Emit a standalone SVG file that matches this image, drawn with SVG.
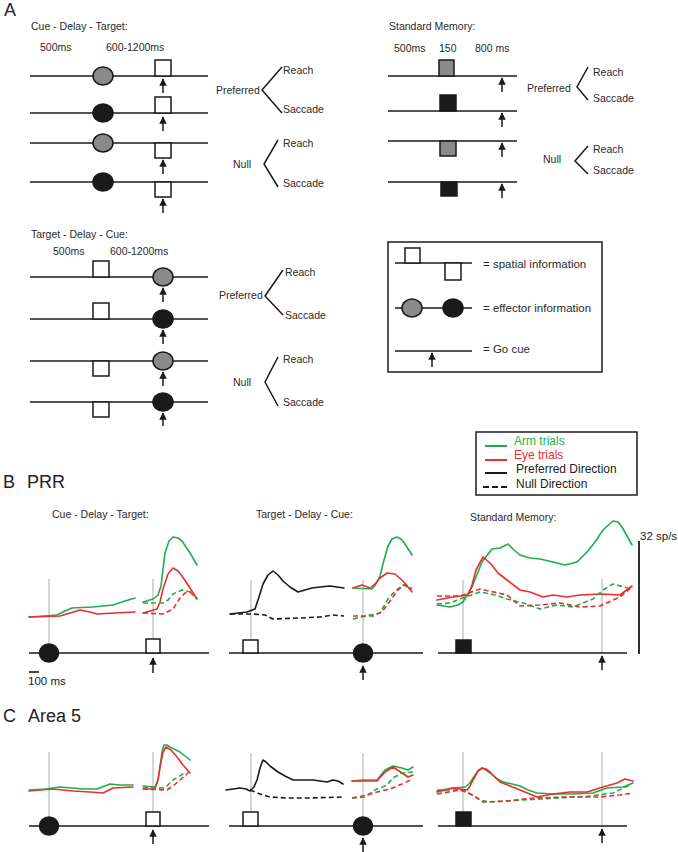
<svg xmlns="http://www.w3.org/2000/svg" width="678" height="852" viewBox="0 0 678 852">
<defs>
<marker id="ah" viewBox="0 0 10 10" refX="9" refY="5" markerWidth="5" markerHeight="5" orient="auto"><path d="M0,0 L10,5 L0,10 z" fill="#1a1a1a"/></marker>
<style>
.t{font-family:"Liberation Sans",Arial,sans-serif;font-size:10.5px;fill:#2a2a2a}
.tl{font-family:"Liberation Sans",Arial,sans-serif;font-size:11.5px;fill:#2a2a2a}
.h{font-family:"Liberation Sans",Arial,sans-serif;font-size:18px;fill:#222}
.lg{font-family:"Liberation Sans",Arial,sans-serif;font-size:12px}
.sm{font-family:"Liberation Sans",Arial,sans-serif;font-size:11.5px;fill:#222}
.ln{stroke:#1a1a1a;stroke-width:1.6;fill:none}
.br{stroke:#1a1a1a;stroke-width:1.5;fill:none}
.arr{stroke:#1a1a1a;stroke-width:1.5;marker-end:url(#ah)}
.sq{fill:#fff;stroke:#1a1a1a;stroke-width:1.5}
.sqg{fill:#8a8a8a;stroke:#1a1a1a;stroke-width:1.5}
.sqb{fill:#1a1a1a;stroke:#1a1a1a;stroke-width:1.5}
.eg{fill:#8a8a8a;stroke:#1a1a1a;stroke-width:1.5}
.eb{fill:#1a1a1a;stroke:#1a1a1a;stroke-width:1.5}
.gv{stroke:#c8c8c8;stroke-width:1.5}
.g{stroke:#1fae4b;stroke-width:1.6;fill:none;stroke-linejoin:round;stroke-linecap:round}
.r{stroke:#ec2d2d;stroke-width:1.6;fill:none;stroke-linejoin:round;stroke-linecap:round}
.k{stroke:#1a1a1a;stroke-width:1.6;fill:none;stroke-linejoin:round;stroke-linecap:round}
.d{stroke-dasharray:5,3;stroke-linecap:butt}
.box{fill:none;stroke:#2a2a2a;stroke-width:1.6}
</style>
</defs>
<rect width="678" height="852" fill="#fff"/>

<!-- Panel A -->
<text class="h" x="4" y="16">A</text>

<g id="cue-delay-target">
<text class="t" x="31" y="30">Cue - Delay - Target:</text>
<text class="t" x="40" y="51">500ms</text>
<text class="t" x="106" y="51">600-1200ms</text>
<line class="ln" x1="30" y1="76" x2="208" y2="76"/>
<line class="ln" x1="30" y1="113" x2="208" y2="113"/>
<line class="ln" x1="30" y1="143" x2="208" y2="143"/>
<line class="ln" x1="30" y1="182" x2="208" y2="182"/>
<ellipse class="eg" cx="103" cy="76" rx="10" ry="9"/>
<ellipse class="eb" cx="103" cy="113" rx="10" ry="9"/>
<ellipse class="eg" cx="103" cy="143" rx="10" ry="9"/>
<ellipse class="eb" cx="103" cy="182" rx="10" ry="9"/>
<rect class="sq" x="155" y="60" width="16" height="16"/>
<rect class="sq" x="155" y="97" width="16" height="16"/>
<rect class="sq" x="155" y="143" width="16" height="15"/>
<rect class="sq" x="155" y="182" width="16" height="15"/>
<line class="arr" x1="163" y1="93" x2="163" y2="79"/>
<line class="arr" x1="163" y1="131" x2="163" y2="117"/>
<line class="arr" x1="163" y1="174" x2="163" y2="160"/>
<line class="arr" x1="163" y1="213" x2="163" y2="199"/>
<text class="t" x="216" y="94">Preferred</text>
<polyline class="br" points="282,67 262,90 282,113"/>
<text class="t" x="283" y="74">Reach</text>
<text class="t" x="283" y="113">Saccade</text>
<text class="t" x="233" y="168">Null</text>
<polyline class="br" points="278,140 264,164 278,187"/>
<text class="t" x="283" y="147">Reach</text>
<text class="t" x="283" y="187">Saccade</text>
</g>

<g id="standard-memory">
<text class="t" x="389" y="30">Standard Memory:</text>
<text class="t" x="394" y="52">500ms</text>
<text class="t" x="439" y="52">150</text>
<text class="t" x="475" y="52">800 ms</text>
<line class="ln" x1="388" y1="76" x2="517" y2="76"/>
<line class="ln" x1="388" y1="111" x2="517" y2="111"/>
<line class="ln" x1="388" y1="141" x2="517" y2="141"/>
<line class="ln" x1="388" y1="182" x2="517" y2="182"/>
<rect class="sqg" x="439" y="60" width="15" height="16"/>
<rect class="sqb" x="440" y="95" width="16" height="16"/>
<rect class="sqg" x="440" y="141" width="16" height="15"/>
<rect class="sqb" x="441" y="182" width="16" height="14"/>
<line class="arr" x1="502" y1="92" x2="502" y2="78"/>
<line class="arr" x1="502" y1="127" x2="502" y2="113"/>
<line class="arr" x1="502" y1="157" x2="502" y2="143"/>
<line class="arr" x1="502" y1="198" x2="502" y2="184"/>
<text class="t" x="527" y="92">Preferred</text>
<polyline class="br" points="588,67 577,87 588,100"/>
<text class="t" x="593" y="76">Reach</text>
<text class="t" x="593" y="102">Saccade</text>
<text class="t" x="543" y="163">Null</text>
<polyline class="br" points="588,146 575,161 588,174"/>
<text class="t" x="593" y="153">Reach</text>
<text class="t" x="593" y="174">Saccade</text>
</g>

<g id="target-delay-cue">
<text class="t" x="31" y="238">Target - Delay - Cue:</text>
<text class="t" x="53" y="255">500ms</text>
<text class="t" x="110" y="255">600-1200ms</text>
<line class="ln" x1="30" y1="277" x2="208" y2="277"/>
<line class="ln" x1="30" y1="319" x2="208" y2="319"/>
<line class="ln" x1="30" y1="361" x2="208" y2="361"/>
<line class="ln" x1="30" y1="402" x2="208" y2="402"/>
<rect class="sq" x="93" y="261" width="16" height="16"/>
<rect class="sq" x="93" y="303" width="16" height="16"/>
<rect class="sq" x="93" y="361" width="16" height="15"/>
<rect class="sq" x="93" y="402" width="16" height="15"/>
<ellipse class="eg" cx="163" cy="277" rx="10" ry="9"/>
<ellipse class="eb" cx="163" cy="319" rx="10" ry="9"/>
<ellipse class="eg" cx="163" cy="361" rx="10" ry="9"/>
<ellipse class="eb" cx="163" cy="402" rx="10" ry="9"/>
<line class="arr" x1="163" y1="302" x2="163" y2="288"/>
<line class="arr" x1="163" y1="344" x2="163" y2="330"/>
<line class="arr" x1="163" y1="386" x2="163" y2="372"/>
<line class="arr" x1="163" y1="426" x2="163" y2="413"/>
<text class="t" x="219" y="299">Preferred</text>
<polyline class="br" points="283,270 265,296 283,315"/>
<text class="t" x="285" y="276">Reach</text>
<text class="t" x="285" y="319">Saccade</text>
<text class="t" x="233" y="386">Null</text>
<polyline class="br" points="278,357 265,382 278,406"/>
<text class="t" x="283" y="363">Reach</text>
<text class="t" x="283" y="406">Saccade</text>
</g>

<g id="legend-a">
<rect class="box" x="388" y="242" width="214" height="130"/>
<line class="ln" x1="395" y1="263" x2="472" y2="263"/>
<rect class="sq" x="405" y="248" width="15" height="15"/>
<rect class="sq" x="445" y="263" width="16" height="17"/>
<text class="tl" x="483" y="268">= spatial information</text>
<line class="ln" x1="395" y1="308" x2="472" y2="308"/>
<ellipse class="eg" cx="412" cy="308" rx="10" ry="9"/>
<ellipse class="eb" cx="453" cy="308" rx="10" ry="9"/>
<text class="tl" x="483" y="312">= effector information</text>
<line class="ln" x1="395" y1="351" x2="472" y2="351"/>
<line class="arr" x1="432" y1="367" x2="432" y2="353"/>
<text class="tl" x="483" y="353">= Go cue</text>
</g>

<!-- Legend B -->
<g id="legend-b">
<rect class="box" x="476" y="432" width="161" height="63"/>
<line x1="485" y1="446" x2="507" y2="446" stroke="#1fae4b" stroke-width="2"/>
<text class="lg" x="514" y="445" fill="#1fae4b">Arm trials</text>
<line x1="485" y1="460" x2="507" y2="460" stroke="#ec2d2d" stroke-width="2"/>
<text class="lg" x="514" y="459" fill="#ec2d2d">Eye trials</text>
<line x1="485" y1="473" x2="507" y2="473" stroke="#1a1a1a" stroke-width="2"/>
<text class="lg" x="516" y="473" fill="#222">Preferred Direction</text>
<line x1="483" y1="487" x2="507" y2="487" stroke="#1a1a1a" stroke-width="2" stroke-dasharray="6,3"/>
<text class="lg" x="516" y="488" fill="#222">Null Direction</text>
</g>

<!-- Panel B -->
<text class="h" x="3" y="488">B</text>
<text class="h" x="27" y="488">PRR</text>

<g id="b-cue-delay-target">
<text class="t" x="52" y="518">Cue - Delay - Target:</text>
<line class="gv" x1="49" y1="579" x2="49" y2="653"/>
<line class="gv" x1="153" y1="579" x2="153" y2="653"/>
<line class="ln" x1="29" y1="653" x2="209" y2="653"/>
<ellipse class="eb" cx="49" cy="653" rx="9.5" ry="9"/>
<rect class="sq" x="146" y="639" width="14" height="14"/>
<line class="arr" x1="153" y1="673" x2="153" y2="658"/>
<line x1="29" y1="672" x2="39" y2="672" stroke="#1a1a1a" stroke-width="1.6"/>
<text class="sm" x="28" y="685">100 ms</text>
<path class="g" d="M29,617 L45,616 L57,615 L65,611 L72,608 L93,607 L113,605 L125,601 L135,598"/>
<path class="r" d="M29,617 L60,616 L70,613 L80,610 L90,612 L97,614 L115,613 L135,612"/>
<path class="g" d="M143,602 L153,599 L158,595 L161,586 L165,553 L169,541 L173,537 L178,538 L182,541 L190,553 L197,565"/>
<path class="r" d="M143,613 L157,609 L160,602 L163,589 L168,574 L173,568 L178,571 L182,576 L190,588 L197,599"/>
<path class="g d" d="M143,603 L163,603 L168,600 L173,594 L182,590 L190,592 L197,598"/>
<path class="r d" d="M143,613 L163,614 L173,609 L180,598 L185,593 L190,592 L197,599"/>
</g>

<g id="b-target-delay-cue">
<text class="t" x="256" y="518">Target - Delay - Cue:</text>
<line class="gv" x1="251" y1="580" x2="251" y2="653"/>
<line class="gv" x1="363" y1="580" x2="363" y2="653"/>
<line class="ln" x1="229" y1="653" x2="423" y2="653"/>
<rect class="sq" x="243" y="640" width="15" height="13"/>
<ellipse class="eb" cx="363" cy="653" rx="9.5" ry="9"/>
<line class="arr" x1="363" y1="680" x2="363" y2="666"/>
<path class="k" d="M230,614 L247,612 L255,609 L259,597 L263,584 L268,575 L273,571 L278,575 L283,581 L290,587 L298,592 L305,590 L312,588 L320,587 L330,586 L337,587 L344,588"/>
<path class="k d" d="M230,614 L253,614 L265,615 L273,619 L300,618 L320,617 L333,615 L344,616"/>
<path class="g" d="M353,588 L372,589 L376,584 L380,576 L384,560 L388,546 L392,539 L397,537 L401,539 L405,544 L412,555"/>
<path class="r" d="M353,588 L362,585 L370,588 L375,584 L380,578 L387,573 L395,574 L403,581 L412,592"/>
<path class="g d" d="M353,619 L370,615 L380,613 L388,599 L395,591 L403,585 L410,588"/>
<path class="r d" d="M353,616 L373,616 L382,612 L390,601 L397,591 L405,584 L412,589"/>
</g>

<g id="b-standard-memory">
<text class="t" x="470" y="521">Standard Memory:</text>
<line class="gv" x1="463" y1="580" x2="463" y2="653"/>
<line class="gv" x1="602" y1="579" x2="602" y2="653"/>
<line class="ln" x1="438" y1="653" x2="627" y2="653"/>
<rect class="sqb" x="456" y="640" width="15" height="13"/>
<line class="arr" x1="602" y1="670" x2="602" y2="656"/>
<line x1="639" y1="541" x2="639" y2="654" stroke="#1a1a1a" stroke-width="1.8"/>
<text class="sm" x="640" y="540">32 sp/s</text>
<path class="g" d="M437,605 L450,607 L458,605 L463,602 L472,587 L482,562 L492,549 L500,548 L508,544 L514,550 L520,555 L530,558 L540,559 L553,562 L565,565 L577,562 L587,552 L595,542 L603,530 L613,521 L618,522 L622,527 L632,545"/>
<path class="r" d="M437,600 L453,597 L468,595 L472,585 L476,570 L483,557 L490,563 L498,573 L507,580 L520,590 L530,592 L543,597 L553,595 L567,597 L580,595 L600,594 L620,595 L632,586"/>
<path class="g d" d="M437,604 L450,603 L460,599 L480,592 L495,595 L507,599 L523,603 L540,609 L557,605 L573,607 L593,599 L603,590 L613,584 L628,588"/>
<path class="r d" d="M437,596 L460,596 L480,589 L507,595 L520,606 L540,605 L560,603 L580,607 L600,606 L620,597 L632,587"/>
</g>

<!-- Panel C -->
<text class="h" x="3" y="722">C</text>
<text class="h" x="28" y="722">Area 5</text>

<g id="c-cue-delay-target">
<line class="gv" x1="49" y1="752" x2="49" y2="826"/>
<line class="gv" x1="153" y1="752" x2="153" y2="826"/>
<line class="ln" x1="29" y1="826" x2="209" y2="826"/>
<ellipse class="eb" cx="49" cy="826" rx="9.5" ry="9"/>
<rect class="sq" x="146" y="812" width="14" height="14"/>
<line class="arr" x1="153" y1="844" x2="153" y2="830"/>
<path class="r" d="M29,791 L53,789 L73,791 L90,792 L103,793 L113,788 L133,787"/>
<path class="g" d="M29,790 L45,789 L60,787 L72,788 L83,789 L97,789 L110,784 L120,785 L133,785"/>
<path class="g" d="M143,786 L155,787 L158,780 L160,767 L162,752 L164,745 L167,745 L170,747 L180,752 L190,760"/>
<path class="r" d="M143,789 L155,789 L158,780 L160,767 L163,752 L166,747 L171,750 L177,757 L183,765 L190,773"/>
<path class="g d" d="M143,787 L163,788 L168,785 L173,780 L183,774 L187,775"/>
<path class="r d" d="M143,789 L167,790 L173,786 L180,780 L189,772"/>
</g>

<g id="c-target-delay-cue">
<line class="gv" x1="251" y1="753" x2="251" y2="826"/>
<line class="gv" x1="363" y1="753" x2="363" y2="826"/>
<line class="ln" x1="229" y1="826" x2="423" y2="826"/>
<rect class="sq" x="243" y="812" width="15" height="14"/>
<ellipse class="eb" cx="363" cy="826" rx="9.5" ry="9"/>
<line class="arr" x1="363" y1="853" x2="363" y2="838"/>
<path class="k" d="M226,790 L240,788 L246,789 L250,791 L254,787 L257,780 L260,768 L263,760 L266,762 L270,766 L278,772 L285,776 L293,780 L303,780 L313,780 L320,781 L327,782 L333,780 L338,781 L343,784"/>
<path class="k d" d="M250,790 L260,794 L270,797 L287,798 L310,798 L343,797"/>
<path class="g" d="M352,781 L363,780 L377,780 L385,770 L393,766 L402,768 L408,770 L413,767"/>
<path class="r" d="M352,781 L377,781 L385,772 L393,767 L402,773 L408,777 L413,775"/>
<path class="g d" d="M352,798 L365,797 L375,790 L387,785 L393,778 L402,773 L413,772"/>
<path class="r d" d="M352,798 L367,795 L377,792 L390,789 L402,784 L413,779"/>
</g>

<g id="c-standard-memory">
<line class="gv" x1="463" y1="752" x2="463" y2="826"/>
<line class="gv" x1="602" y1="752" x2="602" y2="826"/>
<line class="ln" x1="438" y1="826" x2="627" y2="826"/>
<rect class="sqb" x="456" y="812" width="15" height="14"/>
<line class="arr" x1="602" y1="843" x2="602" y2="829"/>
<path class="g d" d="M437,790 L463,790 L472,795 L480,800 L490,802 L523,800 L557,798 L590,796 L613,793 L630,785"/>
<path class="r d" d="M437,794 L460,790 L473,795 L483,802 L507,801 L533,798 L567,797 L600,797 L620,795 L633,793"/>
<path class="g" d="M437,791 L453,788 L465,787 L470,783 L473,778 L478,771 L482,768 L486,770 L490,773 L496,778 L503,782 L512,784 L520,786 L528,790 L537,793 L553,794 L573,794 L593,793 L607,788 L623,787 L633,783"/>
<path class="r" d="M437,792 L453,788 L467,790 L470,786 L473,780 L478,771 L482,768 L486,769 L490,772 L495,777 L500,782 L510,786 L520,790 L537,797 L553,794 L570,792 L587,792 L603,787 L617,783 L625,779 L633,781"/>
</g>
</svg>
